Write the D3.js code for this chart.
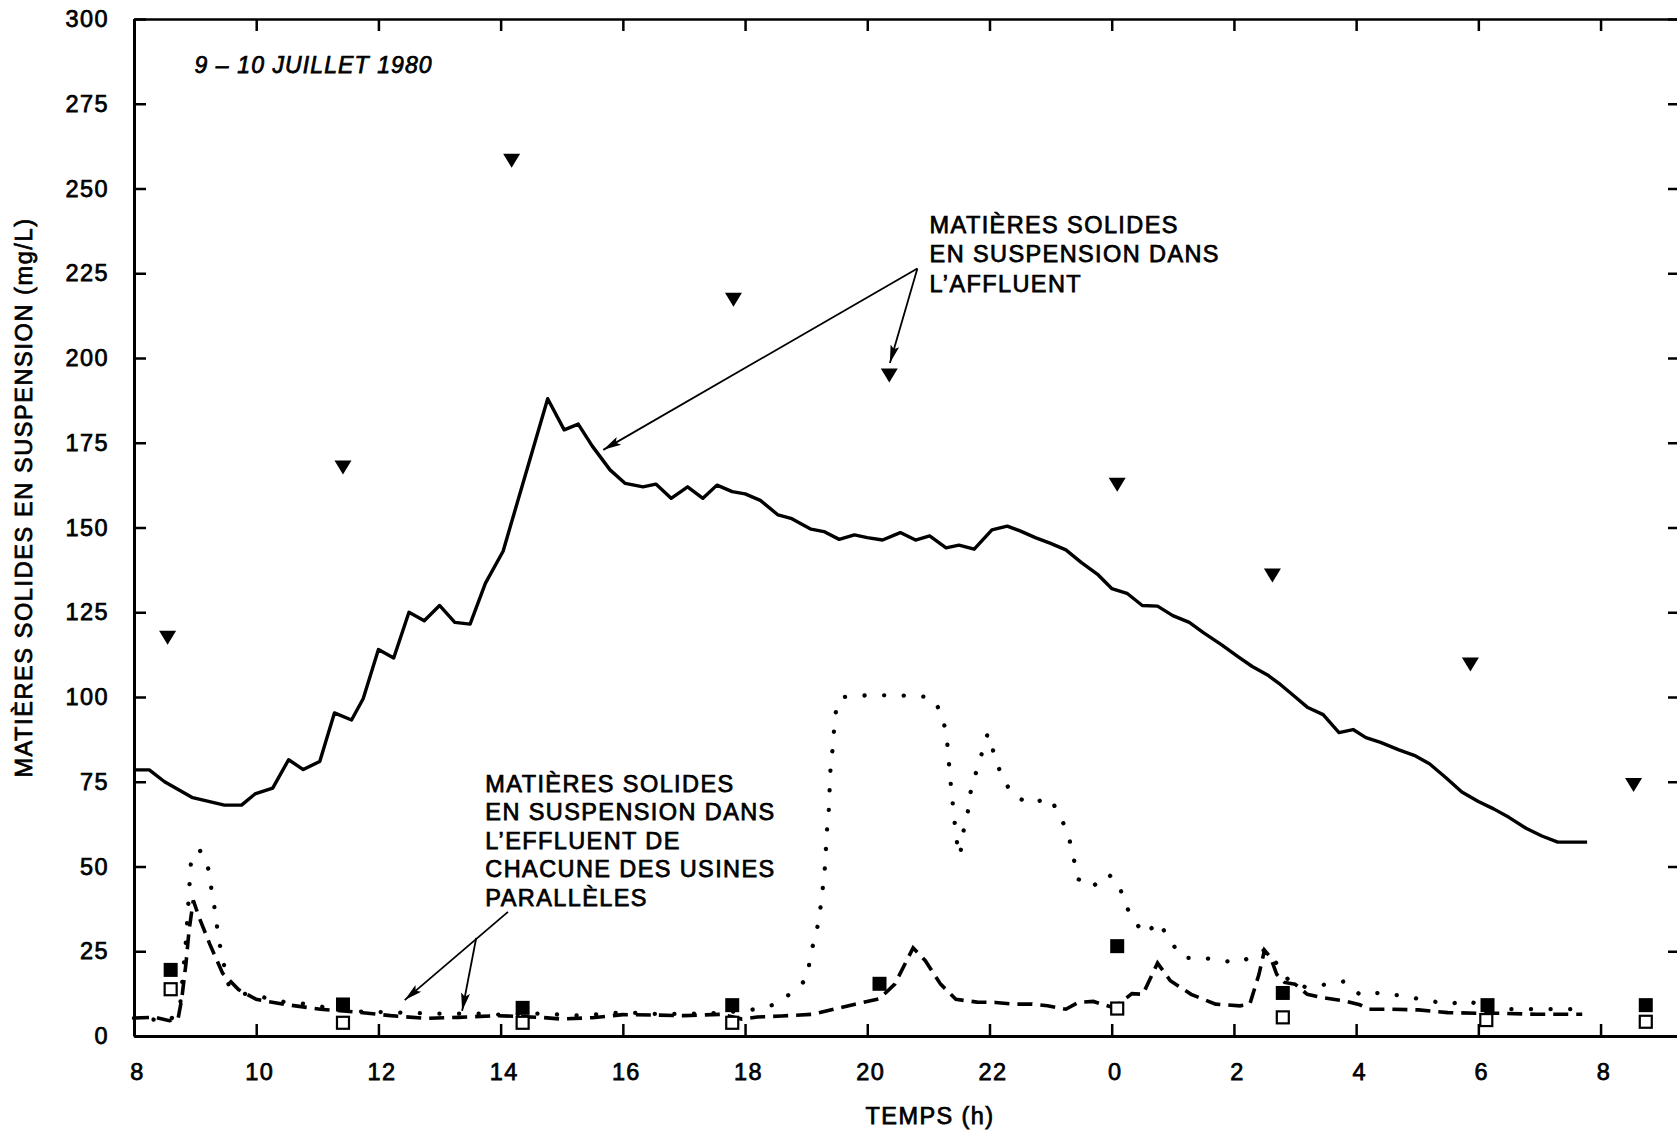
<!DOCTYPE html>
<html>
<head>
<meta charset="utf-8">
<title>Matières solides en suspension</title>
<script src="https://d3js.org/d3.v7.min.js"></script>
<style>
  body { margin: 0; background: #fff; }
  svg { display: block; font-family: "Liberation Sans", Arial, Helvetica, sans-serif; }
</style>
</head>
<body>
<svg width="1677" height="1131"></svg>
<script>
// ticks
const hourTicks = [8, 10, 12, 14, 16, 18, 20, 22, 24, 26, 28, 30, 32];
const yTicks = [0, 25, 50, 75, 100, 125, 150, 175, 200, 225, 250, 275, 300];

// continuous influent TSS (solid line) - hours counted from 0h on 9 July
const influentTime = [8.0, 8.25, 8.5, 8.96, 9.48, 9.76, 9.98, 10.27, 10.53, 10.77, 11.04, 11.28, 11.56, 11.75, 12.0, 12.25, 12.5,
  12.75, 13.0, 13.25, 13.5, 13.75, 14.04, 14.77, 15.04, 15.27, 15.5, 15.79, 16.04, 16.33, 16.54, 16.79, 17.06, 17.31, 17.54,
  17.79, 18.0, 18.25, 18.54, 18.75, 19.08, 19.29, 19.54, 19.79, 20.0, 20.25, 20.54, 20.79, 21.02, 21.29, 21.5, 21.75, 22.04,
  22.29, 22.5, 22.75, 23.0, 23.25, 23.5, 23.78, 24.0, 24.25, 24.5, 24.75, 25.0, 25.27, 25.5, 25.8, 26.06, 26.3, 26.55, 26.76,
  26.97, 27.2, 27.46, 27.72, 27.95, 28.16, 28.4, 28.7, 28.95, 29.2, 29.47, 29.73, 30.0, 30.25, 30.5, 30.78, 31.04, 31.3, 31.78];
const influentTSS = [78.5, 78.5, 75, 70.3, 68.1, 68.1, 71.4, 73.1, 81.5, 78.6, 81, 95.3, 93.2, 99.5, 114, 111.5, 125,
  122.5, 127, 122, 121.5, 133.5, 143, 188, 178.8, 180.5, 174, 167, 163, 162, 162.8, 158.6, 162, 158.6, 162.5,
  160.6, 159.9, 158, 153.7, 152.7, 149.5, 148.8, 146.5, 147.8, 147, 146.3, 148.5, 146.3, 147.5, 144, 144.8, 143.6, 149.3,
  150.4, 149, 147, 145.3, 143.4, 139.7, 136, 132, 130.6, 127, 126.8, 124, 122, 119, 115.4, 112, 109, 106.5, 103.7,
  100.5, 97, 94.8, 89.5, 90.4, 88, 86.6, 84.4, 82.8, 80.3, 76.2, 72, 69.2, 67, 64.5, 61.3, 59, 57.2, 57.2];

// effluent, plant A (dashed line)
const plantATime = [8.0, 8.34, 8.58, 8.72, 8.78, 8.85, 8.9, 8.97, 9.07, 9.24, 9.45, 9.71, 10.0, 10.47, 11.05, 11.63, 12.2,
  12.79, 13.31, 13.95, 14.65, 15.0, 15.5, 16.0, 16.5, 17.0, 17.6, 17.95, 18.2, 18.6, 19.1, 19.45, 19.8, 20.2, 20.45, 20.75,
  20.95, 21.2, 21.45, 21.8, 22.1, 22.4, 22.7, 22.95, 23.25, 23.45, 23.7, 24.0, 24.15, 24.33, 24.51, 24.75, 24.96, 25.3,
  25.7, 26.1, 26.26, 26.41, 26.5, 26.6, 26.7, 26.83, 27.0, 27.2, 27.46, 27.82, 28.06, 28.21, 28.54, 29.02, 29.5, 29.98,
  30.35, 30.95, 31.7];
const plantA = [5.3, 5.5, 4.5, 5, 10.8, 21.3, 31, 40, 34.8, 27.1, 18.5, 13.7, 10.8, 9.3, 7.9, 7.1, 6.0,
  5.2, 5.5, 6.0, 5.5, 5.0, 5.4, 6.3, 6.2, 6.0, 6.4, 5.0, 5.6, 5.9, 6.4, 7.9, 9.4, 11.0, 15.3, 26.0,
  22.2, 15.3, 10.8, 10.0, 9.9, 9.4, 9.4, 8.9, 7.9, 9.9, 10.2, 8.5, 9.9, 12.5, 12.3, 21.5, 16.3, 12.3,
  9.4, 8.9, 9.4, 18.2, 25.3, 23.2, 18.2, 15.8, 15.3, 12.3, 11.3, 10.3, 9.2, 7.9, 7.9, 7.7, 6.9, 6.7,
  6.7, 6.4, 6.4];

// effluent, plant B (dotted line)
const plantBTime = [8.0, 8.58, 8.75, 8.85, 8.94, 9.09, 9.23, 9.27, 9.33, 9.37, 9.43, 9.55, 9.8, 10.1, 10.47, 10.8, 11.5,
  12.2, 12.9, 13.6, 14.0, 14.65, 15.3, 16.0, 16.5, 17.0, 17.6, 18.17, 18.51, 18.8, 19.03, 19.06, 19.16, 19.22, 19.26, 19.3,
  19.34, 19.37, 19.4, 19.44, 19.46, 19.5, 19.6, 20.0, 20.5, 21.0, 21.1, 21.23, 21.3, 21.36, 21.43, 21.47, 21.52, 21.56,
  21.64, 21.69, 21.78, 21.88, 21.97, 22.08, 22.19, 22.36, 22.64, 22.99, 23.17, 23.3, 23.38, 23.45, 23.67, 23.94, 24.12,
  24.21, 24.38, 24.54, 24.77, 24.96, 25.17, 25.44, 25.79, 26.1, 26.44, 26.53, 26.92, 27.2, 27.53, 27.8, 28.07, 28.42,
  28.81, 29.17, 29.52, 29.83, 30.17, 30.5, 30.84, 31.19, 31.55];
const plantB = [5.3, 4.5, 8, 28, 53.6, 54.6, 48.7, 42.8, 36.5, 30.6, 24.2, 15, 12.5, 11.5, 10, 9.5, 7.3,
  7, 6.6, 6.6, 6.3, 6.6, 6.0, 7.0, 6.5, 6.5, 6.8, 7.9, 9.4, 13.3, 17.2, 23.6, 29.8, 35.8, 41.9, 48,
  60.6, 66.7, 79.8, 85.7, 91.6, 97.8, 100, 100.5, 100.5, 100, 99, 94.3, 88.2, 75.4, 63, 56.8, 53.2, 59.3,
  65.5, 71.9, 77.8, 83.7, 89.2, 83, 77.1, 71.6, 68.5, 70.2, 64.5, 58.6, 52.2, 46.3, 43.8, 47.8, 44.8,
  39.1, 33.7, 30, 33.7, 27.9, 23, 23.2, 22.2, 21.7, 24.9, 25.6, 15.8, 14.3, 15.3, 16.1, 12.1, 12.8,
  11.6, 10.5, 9.4, 10.5, 7.9, 7.9, 7.9, 7.9, 7.9];

// grab samples
const grabTime = [8.55, 11.42, 14.18, 17.81, 20.36, 24.09, 26.63, 29.87, 32.54];
const grabInfluent = [118.2, 168.4, 258.9, 217.9, 195.5, 163.3, 136.5, 110.3, 74.7];
const filledTime = [8.6, 11.42, 14.36, 17.79, 20.2, 24.09, 26.8, 30.15, 32.74];
const filledValue = [19.5, 9.3, 8.3, 9.1, 15.4, 26.5, 12.7, 9.1, 9.1];
const openTime = [8.6, 11.42, 14.36, 17.79, 24.09, 26.8, 30.13, 32.74];
const openValue = [13.8, 3.9, 3.9, 3.9, 8.1, 5.5, 4.7, 4.2];

// labels
const dateLabel = '9 – 10 JUILLET 1980';
const yLabel = 'MATIÈRES SOLIDES EN SUSPENSION (mg/L)';
const xLabel = 'TEMPS (h)';
const upperNote = ['MATIÈRES SOLIDES', 'EN SUSPENSION DANS', 'L’AFFLUENT'];
const lowerNote = ['MATIÈRES SOLIDES', 'EN SUSPENSION DANS', 'L’EFFLUENT DE', 'CHACUNE DES USINES', 'PARALLÈLES'];

const plotLeft = 134, plotRight = 1680, plotTop = 19, plotBottom = 1036;
const fontSize = 23.5;
const spacing = '1.4px';
const ink = 0.75;   // slight stroke so the type looks as heavy as the print

const svg = d3.select('svg');
const x = d3.scaleLinear().domain([8, 33.3]).range([plotLeft, plotRight]);
const y = d3.scaleLinear().domain([0, 300]).range([plotBottom, plotTop]);

function styleAxis(g, width) {
  g.select('.domain').attr('stroke', '#000').attr('stroke-width', width);
  g.selectAll('.tick line').attr('stroke', '#000').attr('stroke-width', 2.5);
  g.selectAll('.tick text')
    .attr('fill', '#000')
    .attr('font-size', fontSize)
    .attr('letter-spacing', spacing)
    .attr('stroke', '#000').attr('stroke-width', ink);
  g.attr('font-family', null).attr('font-size', null);
}

// axes - all ticks point inwards
svg.append('g')
  .attr('transform', `translate(0,${plotBottom})`)
  .call(d3.axisBottom(x).tickValues(hourTicks).tickFormat(d => d % 24)
    .tickSizeInner(-12).tickSizeOuter(0).tickPadding(27))
  .call(g => styleAxis(g, 3))
  .call(g => g.selectAll('.tick text').attr('dx', 3));

svg.append('g')
  .attr('transform', `translate(0,${plotTop})`)
  .call(d3.axisTop(x).tickValues(hourTicks).tickFormat('')
    .tickSizeInner(-12).tickSizeOuter(0))
  .call(g => styleAxis(g, 2.5));

svg.append('g')
  .attr('transform', `translate(${plotLeft},0)`)
  .call(d3.axisLeft(y).tickValues(yTicks)
    .tickSizeInner(-12).tickSizeOuter(0).tickPadding(25))
  .call(g => styleAxis(g, 3));

svg.append('g')
  .attr('transform', `translate(${plotRight},0)`)
  .call(d3.axisRight(y).tickValues(yTicks).tickFormat('')
    .tickSizeInner(-12).tickSizeOuter(0))
  .call(g => styleAxis(g, 2.5));

const line = d3.line().x(d => x(d[0])).y(d => y(d[1]));

svg.append('path')
  .datum(d3.zip(plantBTime, plantB))
  .attr('d', line)
  .attr('fill', 'none').attr('stroke', '#000')
  .attr('stroke-width', 4.3).attr('stroke-linecap', 'round')
  .attr('stroke-dasharray', '0.1,19.5');

svg.append('path')
  .datum(d3.zip(plantATime, plantA))
  .attr('d', line)
  .attr('fill', 'none').attr('stroke', '#000')
  .attr('stroke-width', 3.6).attr('stroke-dasharray', '15,8');

svg.append('path')
  .datum(d3.zip(influentTime, influentTSS))
  .attr('d', line)
  .attr('fill', 'none').attr('stroke', '#000')
  .attr('stroke-width', 3.4).attr('stroke-linejoin', 'round');

// down triangles (influent samples)
const tw = 17, th = 14;
svg.append('g').selectAll('path')
  .data(d3.zip(grabTime, grabInfluent))
  .join('path')
  .attr('d', `M${-tw / 2},${-th / 3}L${tw / 2},${-th / 3}L0,${2 * th / 3}Z`)
  .attr('transform', d => `translate(${x(d[0])},${y(d[1])})`)
  .attr('fill', '#000');

svg.append('g').selectAll('rect')
  .data(d3.zip(filledTime, filledValue))
  .join('rect')
  .attr('x', d => x(d[0]) - 7).attr('y', d => y(d[1]) - 7)
  .attr('width', 14).attr('height', 14)
  .attr('fill', '#000');

svg.append('g').selectAll('rect')
  .data(d3.zip(openTime, openValue))
  .join('rect')
  .attr('x', d => x(d[0]) - 6).attr('y', d => y(d[1]) - 6)
  .attr('width', 12).attr('height', 12)
  .attr('fill', '#fff').attr('stroke', '#000').attr('stroke-width', 2.2);

// arrow heads
svg.append('defs').append('marker')
  .attr('id', 'head')
  .attr('viewBox', '0 0 20 10')
  .attr('refX', 20).attr('refY', 5)
  .attr('markerWidth', 21).attr('markerHeight', 9)
  .attr('markerUnits', 'userSpaceOnUse')
  .attr('orient', 'auto')
  .append('path')
  .attr('d', 'M0,0L20,5L0,10L4,5Z')
  .attr('fill', '#000');

function arrow(from, to) {
  svg.append('line')
    .attr('x1', x(from[0])).attr('y1', y(from[1]))
    .attr('x2', x(to[0])).attr('y2', y(to[1]))
    .attr('stroke', '#000').attr('stroke-width', 1.8)
    .attr('marker-end', 'url(#head)');
}

function note(lines, at, step) {
  svg.append('text')
    .attr('x', x(at[0])).attr('y', y(at[1]))
    .attr('font-size', fontSize).attr('letter-spacing', spacing)
    .attr('stroke', '#000').attr('stroke-width', ink)
    .selectAll('tspan')
    .data(lines)
    .join('tspan')
    .attr('x', x(at[0]))
    .attr('dy', (d, i) => i === 0 ? 0 : step)
    .text(d => d);
}

note(upperNote, [21.02, 236.9], 29.5);
arrow([20.82, 226.4], [15.68, 172.9]);
arrow([20.82, 226.4], [20.37, 198.5]);

note(lowerNote, [13.75, 72.1], 28.6);
arrow([14.12, 36.6], [12.43, 10.6]);
arrow([13.6, 28.9], [13.37, 7.4]);

// date
svg.append('text')
  .attr('x', x(8.99)).attr('y', y(284.2))
  .attr('font-size', 23).attr('font-style', 'italic')
  .attr('letter-spacing', '1.1px')
  .attr('stroke', '#000').attr('stroke-width', ink)
  .text(dateLabel);

// axis titles
svg.append('text')
  .attr('transform', `translate(32,${(plotTop + plotBottom) / 2 - 30}) rotate(-90)`)
  .attr('text-anchor', 'middle')
  .attr('font-size', fontSize).attr('letter-spacing', '1.6px')
  .attr('stroke', '#000').attr('stroke-width', ink)
  .text(yLabel);

svg.append('text')
  .attr('x', 930).attr('y', 1124)
  .attr('text-anchor', 'middle')
  .attr('font-size', fontSize).attr('letter-spacing', spacing)
  .attr('stroke', '#000').attr('stroke-width', ink)
  .text(xLabel);
</script>
</body>
</html>
